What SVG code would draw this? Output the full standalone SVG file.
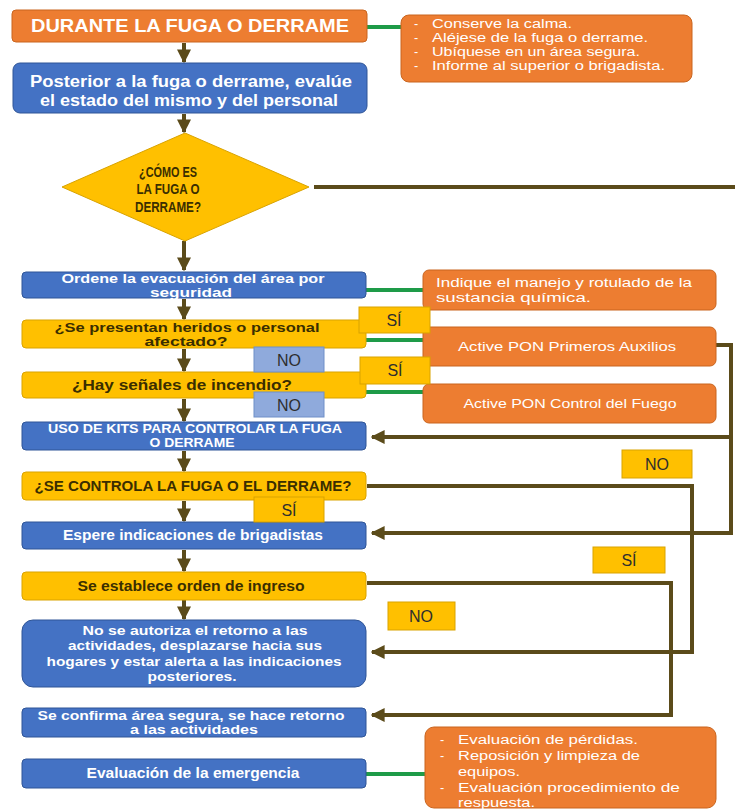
<svg xmlns="http://www.w3.org/2000/svg" width="735" height="812" viewBox="0 0 735 812">
  <style>
    text { font-family: "Liberation Sans", Arial, sans-serif; }
    .orange { fill: #ED7D31; stroke: #C9651F; stroke-width: 1; }
    .blue { fill: #4472C4; stroke: #2F5597; stroke-width: 1; }
    .yellow { fill: #FFC000; stroke: #D9A300; stroke-width: 1; }
    .nobox { fill: #8FAADC; stroke: #6F8FC8; stroke-width: 1; }
    .tagbox { fill: #FFC000; stroke: #D9A300; stroke-width: 1; }
    .wt { fill: #FFFFFF; font-weight: bold; text-anchor: middle; }
    .dt { fill: #3A2E00; font-weight: bold; text-anchor: middle; }
    .nt { fill: #FFFFFF; font-size: 12.5px; }
    .tag { fill: #2E2E2E; font-size: 16px; text-anchor: middle; }
    .flow { fill: none; stroke: #5B4B1A; stroke-width: 4; }
    .note { fill: none; stroke: #1E9B48; stroke-width: 4; }
  </style>
  <defs>
    <marker id="head" viewBox="0 0 10 10" refX="9" refY="5" markerWidth="3.5" markerHeight="3.5" orient="auto" markerUnits="strokeWidth">
      <path d="M0,0 L10,5 L0,10 Z" fill="#5B4B1A"/>
    </marker>
  </defs>

  <rect width="735" height="812" fill="#FFFFFF"/>

  <!-- connectors -->
  <g id="connectors">
    <!-- main vertical flow -->
    <line class="flow" x1="184" y1="43" x2="184" y2="62" marker-end="url(#head)"/>
    <line class="flow" x1="184" y1="114" x2="184" y2="132" marker-end="url(#head)"/>
    <line class="flow" x1="184" y1="241" x2="184" y2="270" marker-end="url(#head)"/>
    <line class="flow" x1="184" y1="299" x2="184" y2="319" marker-end="url(#head)"/>
    <line class="flow" x1="184" y1="349" x2="184" y2="371" marker-end="url(#head)"/>
    <line class="flow" x1="184" y1="399" x2="184" y2="421" marker-end="url(#head)"/>
    <line class="flow" x1="184" y1="451" x2="184" y2="471" marker-end="url(#head)"/>
    <line class="flow" x1="184" y1="501" x2="184" y2="521" marker-end="url(#head)"/>
    <line class="flow" x1="184" y1="550" x2="184" y2="571" marker-end="url(#head)"/>
    <line class="flow" x1="184" y1="600" x2="184" y2="619" marker-end="url(#head)"/>

    <!-- diamond exit to the right -->
    <line class="flow" x1="314" y1="187" x2="735" y2="187"/>

    <!-- return from first aid to the kits and to waiting for brigadistas -->
    <path class="flow" d="M716,345 H731 V533 H372" marker-end="url(#head)"/>
    <path class="flow" d="M731,437 H372" marker-end="url(#head)"/>

    <!-- NO branch of the control question -->
    <path class="flow" d="M367,486 H692 V652 H372" marker-end="url(#head)"/>

    <!-- SÍ branch of the entry order -->
    <path class="flow" d="M367,583 H671 V715 H372" marker-end="url(#head)"/>

    <!-- side notes -->
    <line class="note" x1="367" y1="27" x2="401" y2="27"/>
    <line class="note" x1="366" y1="290" x2="423" y2="290"/>
    <line class="note" x1="366" y1="340" x2="423" y2="340"/>
    <line class="note" x1="366" y1="392" x2="423" y2="392"/>
    <line class="note" x1="366" y1="774" x2="425" y2="774"/>
  </g>

  <!-- left column -->
  <g id="n-durante">
    <rect class="orange" x="12" y="10" width="355" height="32" rx="4"/>
    <text class="wt" x="190" y="32" font-size="18" textLength="318" lengthAdjust="spacingAndGlyphs">DURANTE LA FUGA O DERRAME</text>
  </g>

  <g id="n-posterior">
    <rect class="blue" x="13" y="63" width="354" height="50" rx="7"/>
    <text class="wt" x="191" y="87" font-size="16" textLength="322" lengthAdjust="spacingAndGlyphs">Posterior a la fuga o derrame, evalúe</text>
    <text class="wt" x="189" y="106" font-size="16" textLength="298" lengthAdjust="spacingAndGlyphs">el estado del mismo y del personal</text>
  </g>

  <g id="n-como">
    <polygon points="185,133 309,187 185,241 62,187" fill="#FFC000" stroke="#D9A300" stroke-width="1"/>
    <text class="dt" x="168" y="177" font-size="14" textLength="58" lengthAdjust="spacingAndGlyphs">¿CÓMO ES</text>
    <text class="dt" x="168" y="194" font-size="14" textLength="63" lengthAdjust="spacingAndGlyphs">LA FUGA O</text>
    <text class="dt" x="168" y="212" font-size="14" textLength="66" lengthAdjust="spacingAndGlyphs">DERRAME?</text>
  </g>

  <g id="n-ordene">
    <rect class="blue" x="22" y="272" width="344" height="26" rx="4"/>
    <text class="wt" x="193" y="283" font-size="12" textLength="263" lengthAdjust="spacingAndGlyphs">Ordene la evacuación del área por</text>
    <text class="wt" x="191" y="297" font-size="12" textLength="82" lengthAdjust="spacingAndGlyphs">seguridad</text>
  </g>

  <g id="n-heridos">
    <rect class="yellow" x="22" y="320" width="344" height="28" rx="4"/>
    <text class="dt" x="187" y="332" font-size="12" textLength="265" lengthAdjust="spacingAndGlyphs">¿Se presentan heridos o personal</text>
    <text class="dt" x="186" y="346" font-size="12" textLength="83" lengthAdjust="spacingAndGlyphs">afectado?</text>
  </g>

  <g id="n-incendio">
    <rect class="yellow" x="22" y="372" width="344" height="26" rx="4"/>
    <text class="dt" x="182" y="390" font-size="14" textLength="220" lengthAdjust="spacingAndGlyphs">¿Hay señales de incendio?</text>
  </g>

  <g id="n-kits">
    <rect class="blue" x="22" y="422" width="344" height="28" rx="4"/>
    <text class="wt" x="195" y="433" font-size="12" textLength="294" lengthAdjust="spacingAndGlyphs">USO DE KITS PARA CONTROLAR LA FUGA</text>
    <text class="wt" x="192" y="447" font-size="12" textLength="85" lengthAdjust="spacingAndGlyphs">O DERRAME</text>
  </g>

  <g id="n-controla">
    <rect class="yellow" x="22" y="472" width="344" height="28" rx="4"/>
    <text class="dt" x="193" y="491" font-size="14" textLength="317" lengthAdjust="spacingAndGlyphs">¿SE CONTROLA LA FUGA O EL DERRAME?</text>
  </g>

  <g id="n-espere">
    <rect class="blue" x="22" y="522" width="344" height="27" rx="4"/>
    <text class="wt" x="193" y="540" font-size="14" textLength="260" lengthAdjust="spacingAndGlyphs">Espere indicaciones de brigadistas</text>
  </g>

  <g id="n-ingreso">
    <rect class="yellow" x="22" y="572" width="344" height="28" rx="4"/>
    <text class="dt" x="191" y="591" font-size="14" textLength="227" lengthAdjust="spacingAndGlyphs">Se establece orden de ingreso</text>
  </g>

  <g id="n-noautoriza">
    <rect class="blue" x="22" y="620" width="344" height="67" rx="11"/>
    <text class="wt" x="195" y="635" font-size="13" textLength="225" lengthAdjust="spacingAndGlyphs">No se autoriza el retorno a las</text>
    <text class="wt" x="195" y="650" font-size="13" textLength="254" lengthAdjust="spacingAndGlyphs">actividades, desplazarse hacia sus</text>
    <text class="wt" x="194" y="666" font-size="13" textLength="295" lengthAdjust="spacingAndGlyphs">hogares y estar alerta a las indicaciones</text>
    <text class="wt" x="192" y="681" font-size="13" textLength="89" lengthAdjust="spacingAndGlyphs">posteriores.</text>
  </g>

  <g id="n-confirma">
    <rect class="blue" x="22" y="708" width="344" height="29" rx="4"/>
    <text class="wt" x="191" y="720" font-size="12" textLength="307" lengthAdjust="spacingAndGlyphs">Se confirma área segura, se hace retorno</text>
    <text class="wt" x="194" y="734" font-size="12" textLength="128" lengthAdjust="spacingAndGlyphs">a las actividades</text>
  </g>

  <g id="n-evaluacion">
    <rect class="blue" x="22" y="759" width="344" height="29" rx="4"/>
    <text class="wt" x="193" y="778" font-size="14" textLength="213" lengthAdjust="spacingAndGlyphs">Evaluación de la emergencia</text>
  </g>

  <!-- right column notes -->
  <g id="n-recomendaciones">
    <rect class="orange" x="401" y="15" width="291" height="67" rx="8"/>
    <text class="nt" x="414" y="28">-</text>
    <text class="nt" x="432" y="28" textLength="140" lengthAdjust="spacingAndGlyphs">Conserve la calma.</text>
    <text class="nt" x="414" y="42">-</text>
    <text class="nt" x="432" y="42" textLength="216" lengthAdjust="spacingAndGlyphs">Aléjese de la fuga o derrame.</text>
    <text class="nt" x="414" y="56">-</text>
    <text class="nt" x="432" y="56" textLength="208" lengthAdjust="spacingAndGlyphs">Ubíquese en un área segura.</text>
    <text class="nt" x="414" y="70">-</text>
    <text class="nt" x="432" y="70" textLength="233" lengthAdjust="spacingAndGlyphs">Informe al superior o brigadista.</text>
  </g>

  <g id="n-indique">
    <rect class="orange" x="423" y="270" width="293" height="40" rx="6"/>
    <text class="nt" x="436" y="287" font-size="13" textLength="256" lengthAdjust="spacingAndGlyphs">Indique el manejo y rotulado de la</text>
    <text class="nt" x="436" y="302" font-size="13" textLength="155" lengthAdjust="spacingAndGlyphs">sustancia química.</text>
  </g>

  <g id="n-primeros">
    <rect class="orange" x="423" y="327" width="293" height="39" rx="6"/>
    <text class="nt" x="567" y="351" font-size="14" text-anchor="middle" textLength="218" lengthAdjust="spacingAndGlyphs">Active PON Primeros Auxilios</text>
  </g>

  <g id="n-fuego">
    <rect class="orange" x="423" y="384" width="293" height="39" rx="6"/>
    <text class="nt" x="570" y="408" font-size="14" text-anchor="middle" textLength="213" lengthAdjust="spacingAndGlyphs">Active PON Control del Fuego</text>
  </g>

  <g id="n-posteriores">
    <rect class="orange" x="425" y="727" width="291" height="81" rx="9"/>
    <text class="nt" x="440" y="744" font-size="13">-</text>
    <text class="nt" x="458" y="744" font-size="13" textLength="180" lengthAdjust="spacingAndGlyphs">Evaluación de pérdidas.</text>
    <text class="nt" x="440" y="760" font-size="13">-</text>
    <text class="nt" x="458" y="760" font-size="13" textLength="182" lengthAdjust="spacingAndGlyphs">Reposición y limpieza de</text>
    <text class="nt" x="458" y="776" font-size="13" textLength="62" lengthAdjust="spacingAndGlyphs">equipos.</text>
    <text class="nt" x="440" y="792" font-size="13">-</text>
    <text class="nt" x="458" y="792" font-size="13" textLength="222" lengthAdjust="spacingAndGlyphs">Evaluación procedimiento de</text>
    <text class="nt" x="458" y="807" font-size="13" textLength="77" lengthAdjust="spacingAndGlyphs">respuesta.</text>
  </g>

  <!-- branch labels -->
  <g id="l-si-heridos">
    <rect class="tagbox" x="359" y="307" width="71" height="26"/>
    <text class="tag" x="394" y="326">SÍ</text>
  </g>
  <g id="l-no-heridos">
    <rect class="nobox" x="254" y="347" width="70" height="25"/>
    <text class="tag" x="289" y="366">NO</text>
  </g>
  <g id="l-si-incendio">
    <rect class="tagbox" x="360" y="357" width="70" height="27"/>
    <text class="tag" x="395" y="376">SÍ</text>
  </g>
  <g id="l-no-incendio">
    <rect class="nobox" x="254" y="392" width="70" height="25"/>
    <text class="tag" x="289" y="411">NO</text>
  </g>
  <g id="l-no-controla">
    <rect class="tagbox" x="622" y="450" width="70" height="28"/>
    <text class="tag" x="657" y="470">NO</text>
  </g>
  <g id="l-si-controla">
    <rect class="tagbox" x="254" y="497" width="70" height="25"/>
    <text class="tag" x="289" y="516">SÍ</text>
  </g>
  <g id="l-si-ingreso">
    <rect class="tagbox" x="593" y="547" width="72" height="26"/>
    <text class="tag" x="629" y="566">SÍ</text>
  </g>
  <g id="l-no-ingreso">
    <rect class="tagbox" x="388" y="602" width="67" height="28"/>
    <text class="tag" x="421" y="622">NO</text>
  </g>
</svg>
